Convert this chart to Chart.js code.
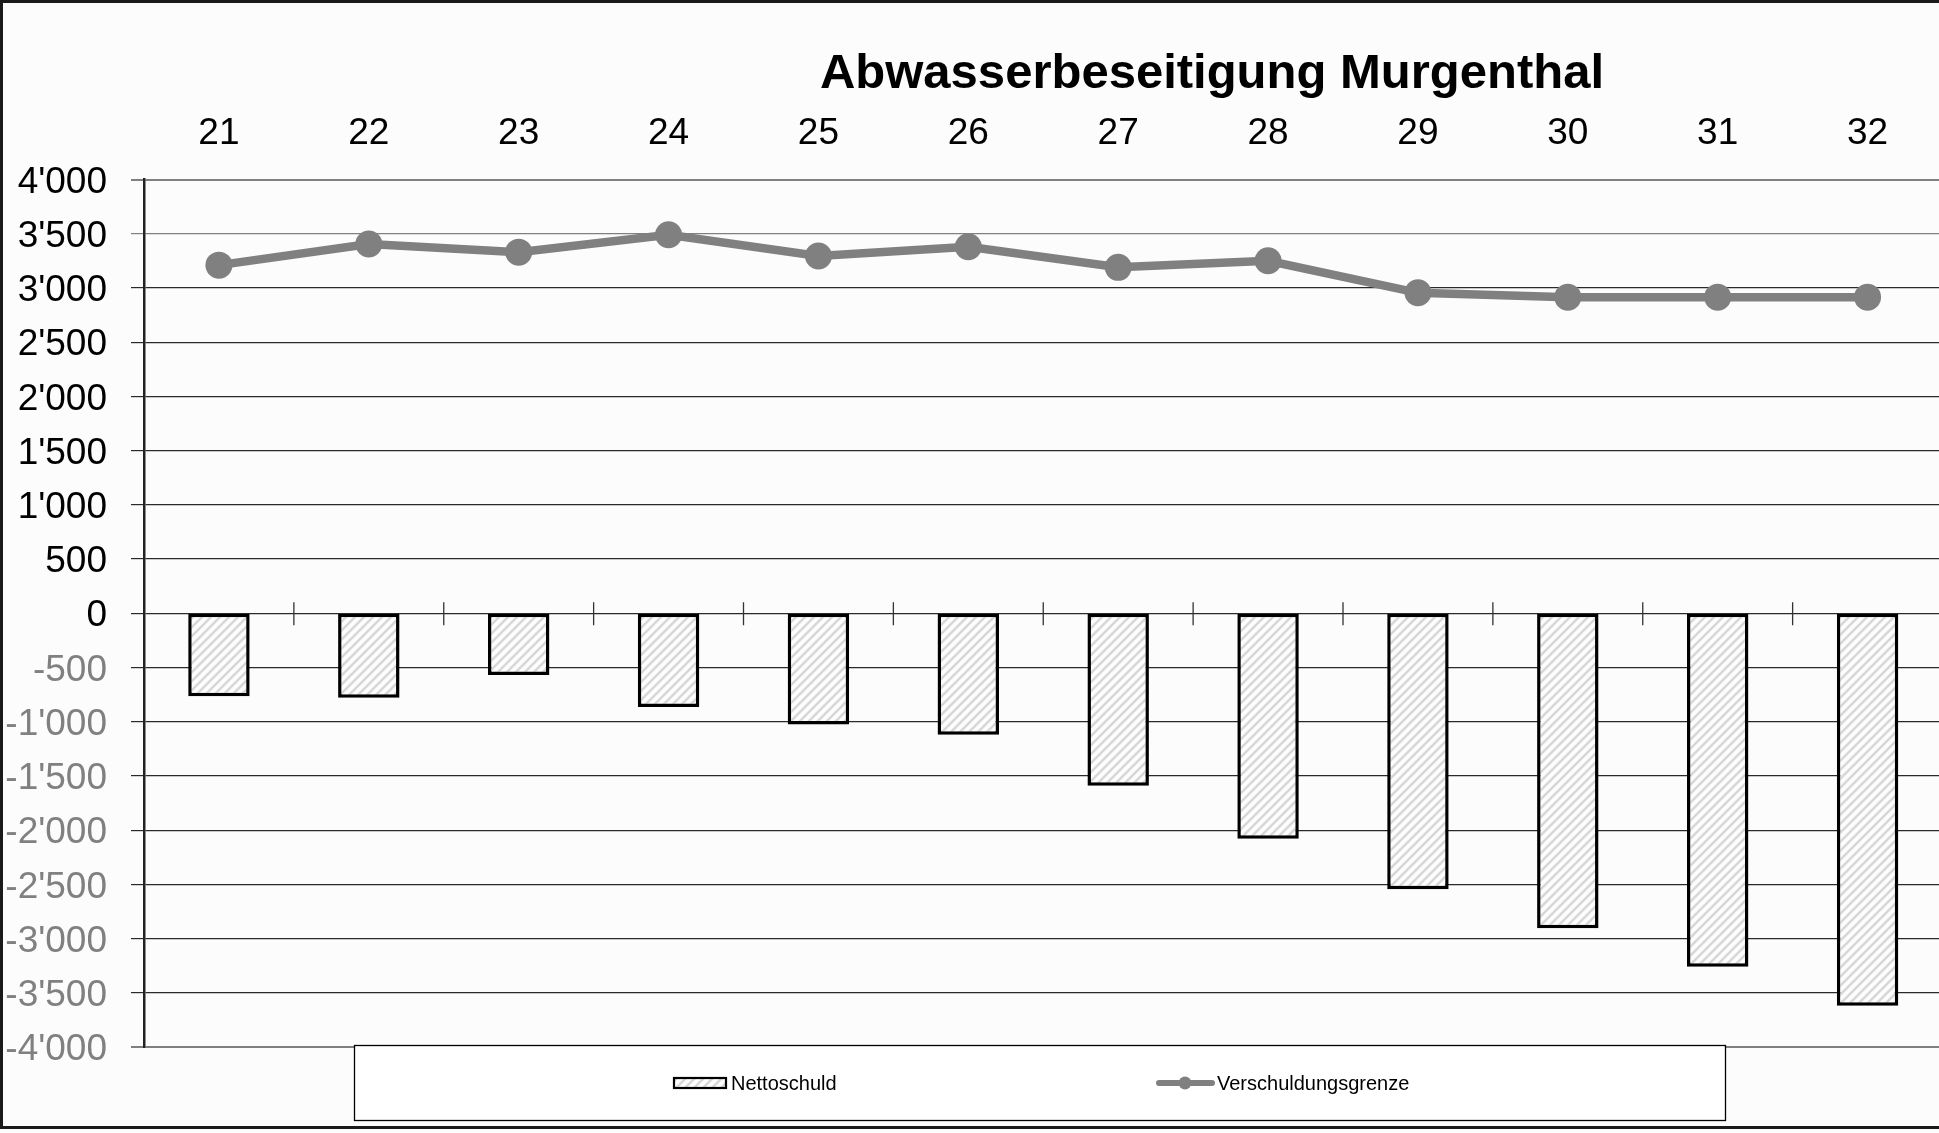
<!DOCTYPE html>
<html>
<head>
<meta charset="utf-8">
<script src="https://cdn.jsdelivr.net/npm/chart.js@4"></script>
<style>
  html, body { margin: 0; padding: 0; overflow: hidden; background: #fcfcfc; }
  #wrap { width: 1956px; height: 1133px; position: relative; }
  canvas { display: block; }
</style>
</head>
<body>
<div id="wrap"><canvas id="chart" width="1956" height="1133"></canvas></div>
<script>
// Jahre (Kategorien) und Werte in Tausend
const years = ["21", "22", "23", "24", "25", "26", "27", "28", "29", "30", "31", "32"];
const nettoschuld = [-765, -780, -570, -865, -1025, -1120, -1590, -2080, -2545, -2905, -3260, -3620];
const verschuldungsgrenze = [3210, 3405, 3330, 3490, 3295, 3380, 3190, 3250, 2955, 2915, 2915, 2915];
const yTicks = [4000, 3500, 3000, 2500, 2000, 1500, 1000, 500, 0, -500, -1000, -1500, -2000, -2500, -3000, -3500, -4000];

const title = "Abwasserbeseitigung Murgenthal";
const font = "'Liberation Sans', Arial, sans-serif";
const colors = {
  bg: "#fcfcfc",
  line: "#808080",
  grid: "#2a2a2a",
  gridLight: "#808080",
  hatch: "#d8d8d8",
};

// Schraffur fuer die Balken
function makeHatch() {
  const s = 9;
  const c = document.createElement("canvas");
  c.width = s; c.height = s;
  const g = c.getContext("2d");
  g.fillStyle = "#fdfdfd";
  g.fillRect(0, 0, s, s);
  g.strokeStyle = colors.hatch;
  g.lineWidth = 2.6;
  g.beginPath();
  g.moveTo(-1, s + 1); g.lineTo(s + 1, -1);
  g.moveTo(-1, 1); g.lineTo(1, -1);
  g.moveTo(s - 1, s + 1); g.lineTo(s + 1, s - 1);
  g.stroke();
  return g.createPattern(c, "repeat");
}
const hatch = makeHatch();

function fmt(v) {
  const n = Math.abs(v);
  const s = n >= 1000 ? Math.floor(n / 1000) + "'" + String(n % 1000).padStart(3, "0") : String(n);
  return (v < 0 ? "-" : "") + s;
}

const background = {
  id: "background",
  beforeDraw(chart) {
    const ctx = chart.ctx;
    ctx.save();
    ctx.fillStyle = colors.bg;
    ctx.fillRect(0, 0, chart.width, chart.height);
    ctx.restore();
  },
};

// Teilstriche auf der Nulllinie zwischen den Kategorien
const zeroTicks = {
  id: "zeroTicks",
  beforeDatasetsDraw(chart) {
    const x = chart.scales.x, y = chart.scales.y;
    const y0 = y.getPixelForValue(0);
    const ctx = chart.ctx;
    ctx.save();
    ctx.strokeStyle = "#333";
    ctx.lineWidth = 1.3;
    ctx.beginPath();
    for (let i = 1; i < years.length; i++) {
      const px = (x.getPixelForTick(i - 1) + x.getPixelForTick(i)) / 2;
      ctx.moveTo(px, y0 - 11);
      ctx.lineTo(px, y0 + 12);
    }
    ctx.stroke();
    ctx.restore();
  },
};

const overlay = {
  id: "overlay",
  afterDraw(chart) {
    const ctx = chart.ctx;
    const ds = chart.data.datasets;
    ctx.save();

    // Titel
    ctx.fillStyle = "#000";
    ctx.font = "bold 49px " + font;
    ctx.textAlign = "center";
    ctx.textBaseline = "alphabetic";
    ctx.fillText(title, 1212, 88);

    // Legende
    ctx.fillStyle = "#ffffff";
    ctx.fillRect(354, 1045, 1371, 75);
    ctx.strokeStyle = "#000";
    ctx.lineWidth = 1.3;
    ctx.strokeRect(354.5, 1045.5, 1371, 75);

    ctx.font = "20px " + font;
    ctx.textAlign = "left";
    ctx.textBaseline = "middle";

    ctx.fillStyle = ds[0].backgroundColor;
    ctx.fillRect(674, 1078, 52, 10);
    ctx.strokeStyle = ds[0].borderColor;
    ctx.lineWidth = 2.2;
    ctx.strokeRect(674, 1078, 52, 10);
    ctx.fillStyle = "#000";
    ctx.fillText(ds[0].label, 731, 1084);

    ctx.strokeStyle = ds[1].borderColor;
    ctx.lineWidth = 6;
    ctx.lineCap = "round";
    ctx.beginPath();
    ctx.moveTo(1159, 1083);
    ctx.lineTo(1212, 1083);
    ctx.stroke();
    ctx.fillStyle = ds[1].borderColor;
    ctx.beginPath();
    ctx.arc(1185, 1083, 6.5, 0, Math.PI * 2);
    ctx.fill();
    ctx.fillStyle = "#000";
    ctx.fillText(ds[1].label, 1217, 1084);

    // Rahmen
    ctx.strokeStyle = "#1a1a1a";
    ctx.lineWidth = 3;
    ctx.strokeRect(1.5, 1.5, chart.width + 10, 1126);
    ctx.restore();
  },
};

new Chart(document.getElementById("chart").getContext("2d"), {
  data: {
    labels: years,
    datasets: [
      {
        type: "bar",
        label: "Nettoschuld",
        data: nettoschuld,
        backgroundColor: hatch,
        borderColor: "#000",
        borderWidth: 3.5,
        borderSkipped: false,
        barPercentage: 0.41,
        categoryPercentage: 1,
        order: 2,
      },
      {
        type: "line",
        label: "Verschuldungsgrenze",
        data: verschuldungsgrenze,
        borderColor: colors.line,
        backgroundColor: colors.line,
        borderWidth: 8.5,
        pointRadius: 13.5,
        pointBorderWidth: 0,
        pointBackgroundColor: colors.line,
        tension: 0,
        order: 1,
      },
    ],
  },
  options: {
    responsive: false,
    animation: false,
    devicePixelRatio: 1,
    layout: { padding: { top: 0, right: 0, bottom: 86, left: 0 } },
    plugins: {
      legend: { display: false },
      title: { display: false },
      tooltip: { enabled: false },
    },
    scales: {
      x: {
        position: "top",
        offset: true,
        grid: { display: false, drawTicks: false },
        border: { display: false },
        ticks: {
          color: "#000",
          font: { family: font, size: 37 },
          padding: 24,
          maxRotation: 0,
          autoSkip: false,
        },
        afterFit(scale) {
          scale.height = 179.5;
          scale.paddingLeft = 0;
          scale.paddingRight = 0;
        },
      },
      y: {
        min: -4000,
        max: 4000,
        afterBuildTicks(scale) { scale.ticks = yTicks.map((v) => ({ value: v })); },
        grid: {
          color: (c) => (Math.abs(c.tick.value) === 4000 || c.tick.value === 3500 ? colors.gridLight : colors.grid),
          lineWidth: (c) => (Math.abs(c.tick.value) === 4000 ? 2 : 1.2),
          tickLength: 13,
        },
        border: { display: true, color: "#222", width: 2.5 },
        ticks: {
          font: { family: font, size: 37 },
          color: (c) => (c.tick.value < 0 ? "#808080" : "#000"),
          padding: 24,
          labelOffset: 3,
          callback: (v) => fmt(v),
        },
        afterFit(scale) {
          scale.width = 144;
          scale.paddingTop = 0;
          scale.paddingBottom = 0;
        },
      },
    },
  },
  plugins: [background, zeroTicks, overlay],
});
</script>
</body>
</html>
